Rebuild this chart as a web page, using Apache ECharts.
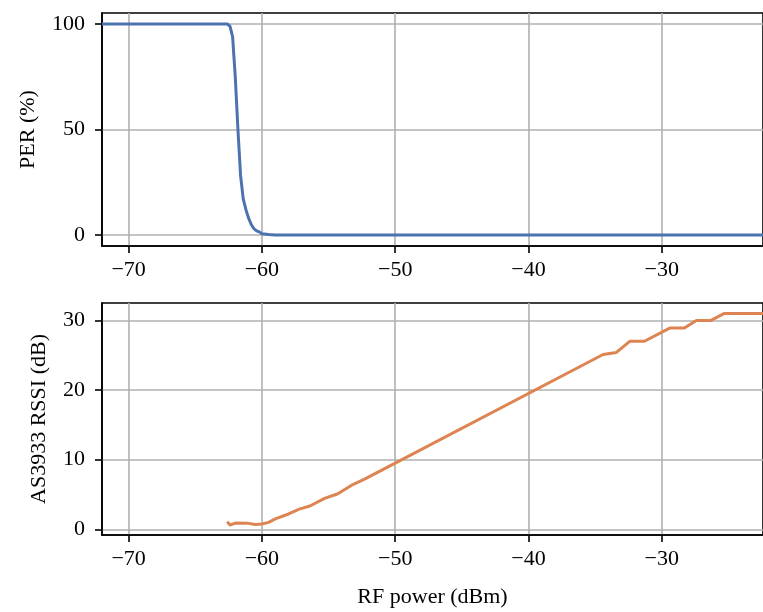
<!DOCTYPE html>
<html>
<head>
<meta charset="utf-8">
<script src="https://cdn.jsdelivr.net/npm/echarts@6/dist/echarts.min.js"></script>
<style>html,body{margin:0;padding:0;background:#fff;}#c{width:763px;height:612px;}</style>
</head>
<body>
<div id="c"></div>
<script>
// Data
const perPower = [-72, -70, -66, -63, -62.6, -62.4, -62.2, -62.0, -61.8, -61.6, -61.4, -61.2, -61.0, -60.8, -60.6, -60.4, -60.2, -60.0, -59.5, -59.0, -50, -40, -30, -22.4];
const perValues = [100, 100, 100, 100, 100, 99, 94, 75, 50, 28, 17, 12, 8, 5, 3, 2, 1.5, 0.6, 0.2, 0, 0, 0, 0, 0];
const rssiPower = [-62.6, -62.4, -62.0, -61.0, -60.5, -60.0, -59.5, -59.0, -58.0, -57.2, -56.4, -55.3, -54.3, -53.3, -52.3, -50.5, -34.4, -33.4, -32.4, -31.3, -29.4, -28.3, -27.4, -26.3, -25.3, -22.4];
const rssiValues = [1.1, 0.6, 0.9, 0.85, 0.7, 0.75, 1.0, 1.5, 2.2, 2.9, 3.35, 4.45, 5.1, 6.3, 7.2, 9.0, 25.1, 25.4, 27, 27, 28.9, 28.9, 30, 30, 31, 31];
const xTicks = [-70, -60, -50, -40, -30];
const perTicks = [0, 50, 100];
const rssiTicks = [0, 10, 20, 30];

const FONT = 'Liberation Serif';
const fmt = v => String(v).replace('-', '\u2212');
const zip = (a, b) => a.map((x, i) => [x, b[i]]);

function xAxis(gridIndex, withName) {
  return {
    type: 'value', gridIndex: gridIndex, min: -72, max: -22.4,
    axisLine: {show: true, onZero: false, lineStyle: {color: '#000', width: 1.6}},
    axisTick: {show: true, customValues: xTicks, length: 7, lineStyle: {color: '#000', width: 1.6}},
    axisLabel: {customValues: xTicks, formatter: fmt, color: '#000', fontFamily: FONT, fontSize: 22, margin: 13},
    splitLine: {show: true, lineStyle: {color: '#b0b0b0', width: 1.6}},
    name: withName ? 'RF power (dBm)' : '', nameLocation: 'middle', nameGap: 51,
    nameTextStyle: {color: '#000', fontFamily: FONT, fontSize: 22}
  };
}
function yAxis(gridIndex, min, max, ticks, name, gap) {
  return {
    type: 'value', gridIndex: gridIndex, min: min, max: max,
    axisLine: {show: true, onZero: false, lineStyle: {color: '#000', width: 1.6}},
    axisTick: {show: true, customValues: ticks, length: 7, lineStyle: {color: '#000', width: 1.6}},
    axisLabel: {customValues: ticks, formatter: fmt, color: '#000', fontFamily: FONT, fontSize: 22, margin: 17},
    splitLine: {show: true, lineStyle: {color: '#b0b0b0', width: 1.6}},
    name: name, nameLocation: 'middle', nameGap: gap,
    nameTextStyle: {color: '#000', fontFamily: FONT, fontSize: 22}
  };
}

const chart = echarts.init(document.getElementById('c'), null, {renderer: 'canvas'});
chart.setOption({
  animation: false,
  backgroundColor: '#fff',
  grid: [
    {left: 102, right: -3, top: 13, height: 233, show: true, borderColor: '#000', borderWidth: 1.6, backgroundColor: 'transparent'},
    {left: 102, right: -3, top: 303, height: 232, show: true, borderColor: '#000', borderWidth: 1.6, backgroundColor: 'transparent'}
  ],
  xAxis: [xAxis(0, false), xAxis(1, true)],
  yAxis: [
    yAxis(0, -5.2, 105.2, perTicks, 'PER (%)', 63),
    yAxis(1, -0.82, 32.5, rssiTicks, 'AS3933 RSSI (dB)', 52)
  ],
  series: [
    {type: 'line', xAxisIndex: 0, yAxisIndex: 0, data: zip(perPower, perValues), showSymbol: false, symbol: 'none',
     lineStyle: {color: '#4c72b0', width: 3}, itemStyle: {color: '#4c72b0'}},
    {type: 'line', xAxisIndex: 1, yAxisIndex: 1, data: zip(rssiPower, rssiValues), showSymbol: false, symbol: 'none',
     lineStyle: {color: '#dd8452', width: 3}, itemStyle: {color: '#dd8452'}}
  ]
});
</script>
</body>
</html>
